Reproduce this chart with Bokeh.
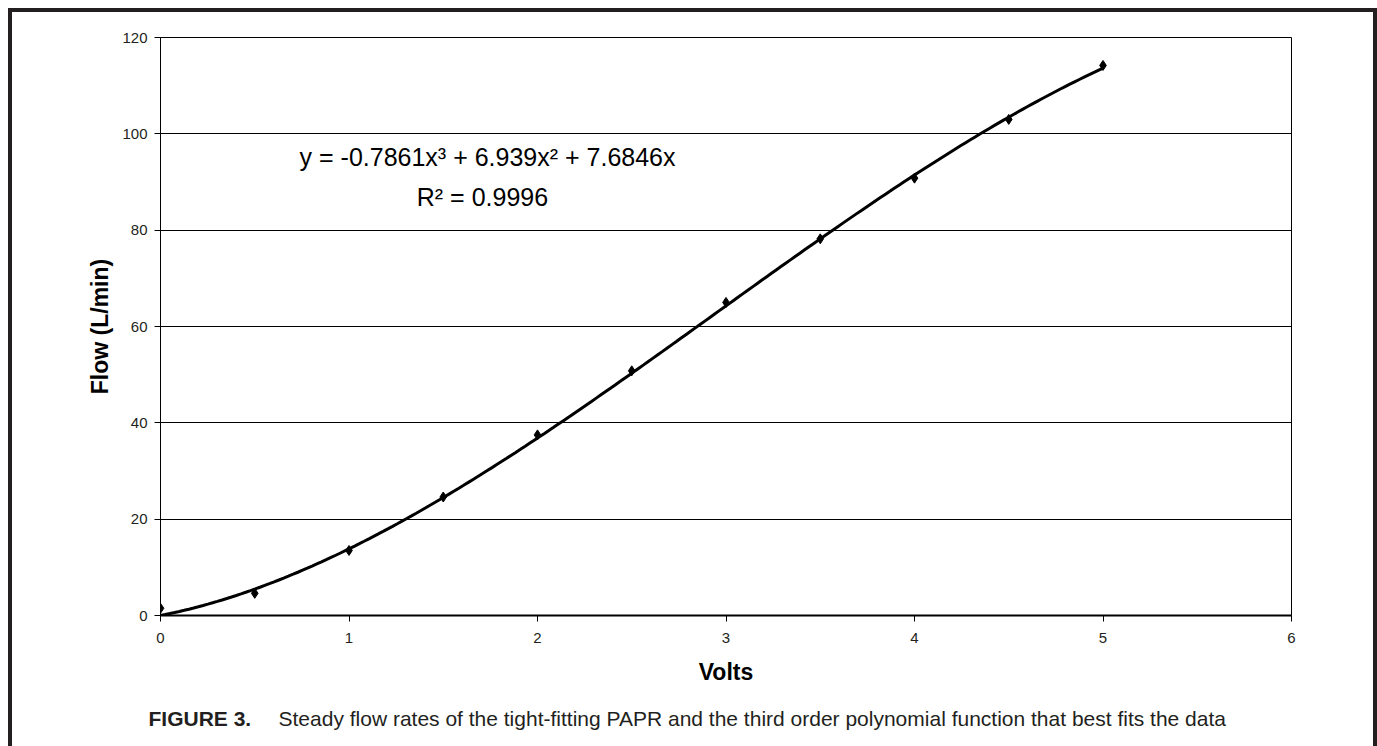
import numpy as np
from bokeh.plotting import figure
from bokeh.models import Range1d, FixedTicker, Label, ColumnDataSource
from bokeh.embed import file_html
from bokeh.resources import INLINE

# ---- data ----
volts = [0, 0.5, 1, 1.5, 2, 2.5, 3, 3.5, 4, 4.5, 5]
flow = [1.5, 4.6, 13.5, 24.6, 37.5, 50.8, 65.0, 78.2, 90.8, 103.0, 114.2]
# third-order trendline coefficients as printed on the chart (x^3, x^2, x, const)
trend_coeffs = [-0.7861, 6.939, 7.6846, 0.0]
x_ticks = [0, 1, 2, 3, 4, 5, 6]
y_ticks = [0, 20, 40, 60, 80, 100, 120]
equation_text = "y = -0.7861x³ + 6.939x² + 7.6846x"
r2_text = "R² = 0.9996"
x_label = "Volts"
y_label = "Flow (L/min)"
caption_bold = "FIGURE  3."
caption_rest = "Steady flow rates of the tight-fitting PAPR and the third order polynomial function that best fits the data"

INK = "#231f20"
FONT = "Liberation Sans"

p = figure(width=1361, height=690, output_backend="svg", toolbar_location=None,
           x_range=Range1d(0, 6), y_range=Range1d(0, 120),
           min_border_left=148, min_border_right=82, min_border_top=25, min_border_bottom=87,
           background_fill_color="white", border_fill_color="white")
p.styles = {"margin-left": "12px", "margin-top": "12px",
            "box-shadow": f"-4px -4px 0 0 {INK}, 4px -4px 0 0 {INK}, -4px 0 0 0 {INK}, 4px 0 0 0 {INK}"}

p.outline_line_color = "black"
p.outline_line_width = 1
p.xgrid.grid_line_color = None
p.ygrid.grid_line_color = "black"
p.ygrid.grid_line_width = 1

for ax in (p.xaxis[0], p.yaxis[0]):
    ax.axis_line_color = "black"
    ax.major_tick_line_color = "black"
    ax.major_tick_in = 0
    ax.major_tick_out = 6
    ax.minor_tick_line_color = None
    ax.major_label_text_font = FONT
    ax.major_label_text_font_size = "15px"
    ax.major_label_text_color = INK
    ax.axis_label_text_font = FONT
    ax.axis_label_text_font_size = "23px"
    ax.axis_label_text_font_style = "bold"
    ax.axis_label_text_color = "black"

p.xaxis[0].ticker = FixedTicker(ticks=x_ticks)
p.yaxis[0].ticker = FixedTicker(ticks=y_ticks)
p.xaxis[0].axis_line_width = 2
p.yaxis[0].axis_line_width = 1
p.xaxis[0].major_label_standoff = 11
p.yaxis[0].major_label_standoff = 7
p.xaxis[0].axis_label = x_label
p.yaxis[0].axis_label = y_label
p.xaxis[0].axis_label_standoff = 13
p.yaxis[0].axis_label_standoff = 6

# trendline from printed coefficients
xs = np.linspace(min(volts), max(volts), 200)
ys = np.polyval(trend_coeffs, xs)
p.line(xs, ys, line_color="black", line_width=3)

src = ColumnDataSource(dict(x=volts, y=flow))
p.scatter("x", "y", source=src, marker="diamond", size=10, fill_color="black", line_color="black")

p.add_layout(Label(x=1.735, y=95.1, text=equation_text, text_align="center",
                   text_baseline="alphabetic", text_font=FONT, text_font_size="25px",
                   text_color="black"))
p.add_layout(Label(x=1.708, y=86.8, text=r2_text, text_align="center",
                   text_baseline="alphabetic", text_font=FONT, text_font_size="25px",
                   text_color="black"))

# caption strip below the chart (separate root so its frame spans the full width)
cap = figure(width=1361, height=44, output_backend="svg", toolbar_location=None,
             x_range=Range1d(0, 1361), y_range=Range1d(0, 44),
             x_axis_location=None, y_axis_location=None,
             min_border=0, background_fill_color="white", border_fill_color="white")
cap.styles = {"margin-left": "12px",
              "box-shadow": f"-4px 0 0 0 {INK}, 4px 0 0 0 {INK}"}
cap.outline_line_color = None
cap.grid.grid_line_color = None
cap.add_layout(Label(x=136, y=28, text=caption_bold,
                     text_font=FONT, text_font_size="21px", text_font_style="bold",
                     text_color=INK, text_baseline="alphabetic"))
cap.add_layout(Label(x=266, y=28, text=caption_rest,
                     text_font=FONT, text_font_size="21px", text_color=INK,
                     text_baseline="alphabetic"))

open("out.html", "w").write(file_html([p, cap], INLINE))
